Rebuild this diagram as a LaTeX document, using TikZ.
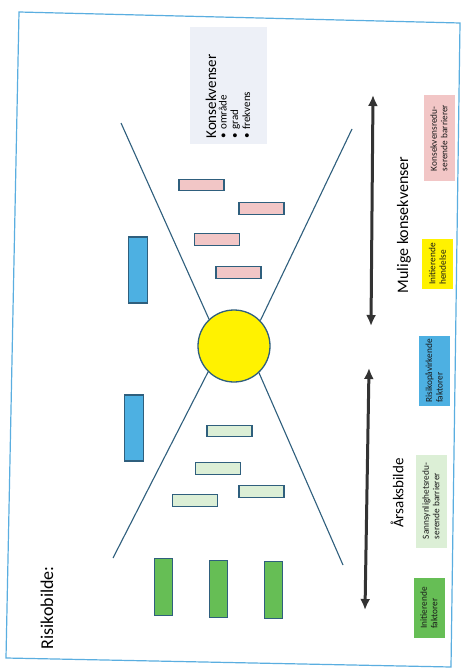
\documentclass[tikz,border=0pt]{standalone}
\usepackage{fontspec}
\setmainfont{Carlito}
\usetikzlibrary{arrows.meta,calc,positioning}
\definecolor{rammeblaa}{HTML}{5AAEE0}
\definecolor{kant}{HTML}{2F5F7D}
\definecolor{rosa}{HTML}{F2C6C6}
\definecolor{lysgronn}{HTML}{DCEFD6}
\definecolor{gronn}{HTML}{66BE55}
\definecolor{blaa}{HTML}{4DB0E2}
\definecolor{gul}{HTML}{FFF200}
\definecolor{graablaa}{HTML}{EDF0F7}

\begin{document}
\begin{tikzpicture}[x=1pt,y=-1pt,
  boks/.style={draw=kant,line width=1.3pt,inner sep=0pt},
  liggende/.style={boks,minimum width=45pt,minimum height=11.5pt},
  staaende/.style={boks,minimum width=18.5pt,minimum height=57pt},
  forklaring/.style={rotate=90,inner xsep=3pt,minimum height=31pt,align=left,text=black!90,font=\fontsize{9.3}{10.5}\selectfont},
  pil/.style={line width=3pt,draw=black!80,{Latex[length=11pt,width=10pt]}-{Latex[length=11pt,width=10pt]}},
  linje/.style={draw=kant,line width=1.1pt}]
\useasboundingbox (0,0) rectangle (461,671);
\fill[white] (0,0) rectangle (461,671);
\draw[rammeblaa,line width=1.2pt] (19,12) -- (460,23) -- (451,667) -- (6,658) -- cycle;

% sløyfa
\node[circle,draw=kant,line width=1.3pt,fill=gul,minimum size=72pt] (hendelse) at (234,346) {};
\coordinate (tl) at (121,123);
\coordinate (tr) at (352,129);
\coordinate (bl) at (113,558);
\coordinate (br) at (343,565);
\draw[linje] (tl) -- (hendelse.133);
\draw[linje] (tr) -- (hendelse.44);
\draw[linje] (bl) -- (hendelse.225);
\draw[linje] (br) -- (hendelse.313);

% barrierer og faktorer
\node[liggende,fill=rosa] (kb1) at (201.5,185) {};
\node[liggende,fill=rosa] (kb2) at (261.5,208.5) {};
\node[liggende,fill=rosa] (kb3) at (217,239.5) {};
\node[liggende,fill=rosa] (kb4) at (238.5,272.5) {};
\node[liggende,fill=lysgronn] (sb1) at (229.5,431) {};
\node[liggende,fill=lysgronn] (sb2) at (218,468.5) {};
\node[liggende,fill=lysgronn] (sb3) at (261.5,491.5) {};
\node[liggende,fill=lysgronn] (sb4) at (195,500.5) {};
\node[staaende,fill=blaa,minimum height=66pt] (rf1) at (138,270) {};
\node[staaende,fill=blaa,minimum height=66pt] (rf2) at (134,428) {};
\node[staaende,fill=gronn] (if1) at (163.5,587) {};
\node[staaende,fill=gronn] (if2) at (218.5,589) {};
\node[staaende,fill=gronn] (if3) at (273.5,590) {};

% konsekvenser
\node[rotate=90,fill=graablaa,minimum width=117pt,minimum height=77pt,text width=105pt,align=left,inner xsep=6pt] (kons) at (228,86)
  {{\fontsize{15}{16}\selectfont Konsekvenser}\\[-1pt]
   {\fontsize{11}{11.5}\selectfont\textbullet\ område\\\textbullet\ grad\\\textbullet\ frekvens}};

% piler
\coordinate (mk1) at (373,95);
\coordinate (mk2) at (371,326);
\coordinate (ab1) at (369,368);
\coordinate (ab2) at (365,610);
\draw[pil] (mk1) -- (mk2);
\draw[pil] (ab1) -- (ab2);
\node[rotate=90,font=\fontsize{16}{18}\selectfont] (mulige) at (404,225) {Mulige konsekvenser};
\node[rotate=90,font=\fontsize{15}{17}\selectfont] (arsak) at (397,493) {Årsaksbilde};
\node[rotate=90,font=\fontsize{18}{20}\selectfont] (risiko) at (47,608) {Risikobilde:};

% forklaring
\node[forklaring,fill=rosa,minimum width=85pt] (f1) at (439,138) {Konsekvensredu-\\serende barrierer};
\node[forklaring,fill=gul,minimum width=50pt] (f2) at (437.5,264) {Initierende\\hendelse};
\node[forklaring,fill=blaa,minimum width=65pt] (f3) at (434,371) {Risikopåvirkende\\faktorer};
\node[forklaring,fill=lysgronn,minimum width=93pt] (f4) at (431,501) {Sannsynlighetsredu-\\serende barrierer};
\node[forklaring,fill=gronn,minimum width=60pt] (f5) at (429,608) {Initierende\\faktorer};
\end{tikzpicture}
\end{document}
